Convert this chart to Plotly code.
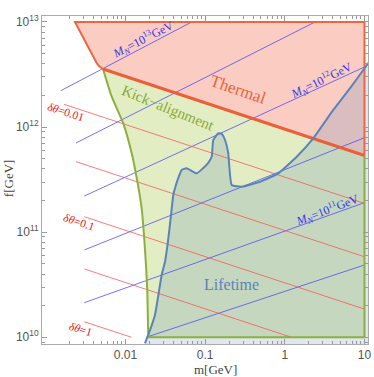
import plotly.graph_objects as go

# ---------------- data (log10 values) ----------------
# Thermal (excluded) region outline, starting at the lower-left corner
thermal_log_m = [-2.282, -2.326, -2.361, -2.634, 1.0, 1.0]
thermal_log_f = [12.553, 12.577, 12.607, 13.0, 13.0, 11.73]
# Thermal boundary (thick line)
thermal_line_log_m = [-2.282, 1.0]
thermal_line_log_f = [12.553, 11.73]

# Kick-alignment left boundary (top to bottom)
kick_log_m = [-2.282, -2.173, -2.028, -1.922, -1.847, -1.797, -1.768, -1.743, -1.726, -1.714]
kick_log_f = [12.553, 12.289, 12.036, 11.751, 11.465, 11.230, 10.973, 10.688, 10.434, 10.0]
kick_floor_log_f = 10.0
kick_right_log_m = 1.0

# Lifetime boundary curve
life_log_m = [-1.755, -1.714, -1.630, -1.546, -1.504, -1.470, -1.433, -1.400, -1.379, -1.337,
              -1.295, -1.232, -1.106, -1.027, -0.964, -0.918, -0.898, -0.835, -0.792, -0.751,
              -0.710, -0.667, -0.541, -0.312, -0.082, 0.149, 0.357, 0.608, 0.817, 0.985, 1.090]
life_log_f = [9.943, 10.022, 10.212, 10.593, 10.719, 10.894, 11.132, 11.354, 11.418, 11.516,
              11.592, 11.608, 11.560, 11.608, 11.658, 11.718, 11.877, 11.941, 11.934, 11.877,
              11.751, 11.449, 11.433, 11.480, 11.560, 11.718, 11.893, 12.163, 12.369, 12.543, 12.655]

# Constant M_N lines (start / end points)
mn_log_m0 = [-2.813, -2.621, -2.517, -2.517, -2.517, -1.74]
mn_log_f0 = [12.346, 11.849, 11.344, 10.831, 10.329, 10.0]
mn_log_m1 = [-1.169, 0.379, 1.0, 1.0, 1.0, 1.0]
mn_log_f1 = [13.0, 13.0, 12.572, 11.899, 11.281, 10.688]

# Constant delta-theta lines (start / end points)
dt_log_m0 = [-2.772, -2.621, -2.517, -2.517, -2.517]
dt_log_f0 = [12.217, 11.671, 11.147, 10.650, 10.148]
dt_log_m1 = [1.0, 1.0, 1.0, 0.083, -1.925]
dt_log_f1 = [11.274, 10.766, 10.268, 10.0, 10.0]

mn_label_text = ["10<sup>13</sup>", "10<sup>12</sup>", "10<sup>11</sup>"]
dt_label_text = ["0.01", "0.1", "1"]

x_tick_vals = [0.01, 0.1, 1, 10]
x_tick_text = ["0.01", "0.1", "1", "10"]
y_tick_vals = [1e10, 1e11, 1e12, 1e13]
y_tick_text = ["10<sup>10</sup>", "10<sup>11</sup>", "10<sup>12</sup>", "10<sup>13</sup>"]


def p(v):
    return [10 ** a for a in v]


fig = go.Figure()

# ---- fills ----
green_m = kick_log_m + [kick_right_log_m, kick_right_log_m] + thermal_line_log_m[::-1]
green_f = kick_log_f + [kick_floor_log_f, thermal_line_log_f[1]] + thermal_line_log_f[::-1]
fig.add_trace(go.Scatter(x=p(green_m), y=p(green_f), fill="toself", mode="none",
                         fillcolor="rgba(160,195,60,0.30)", hoverinfo="skip"))
fig.add_trace(go.Scatter(x=p(thermal_log_m), y=p(thermal_log_f), fill="toself", mode="none",
                         fillcolor="rgba(240,110,80,0.35)", hoverinfo="skip"))
life_m = life_log_m + [1.3, 1.3, life_log_m[0]]
life_f = life_log_f + [life_log_f[-1], 9.8, 9.8]
fig.add_trace(go.Scatter(x=p(life_m), y=p(life_f), fill="toself", mode="none",
                         fillcolor="rgba(90,130,180,0.20)", hoverinfo="skip"))

# ---- thin contour lines ----
for i in range(len(mn_log_m0)):
    fig.add_trace(go.Scatter(x=p([mn_log_m0[i], mn_log_m1[i]]), y=p([mn_log_f0[i], mn_log_f1[i]]),
                             mode="lines", line=dict(color="rgba(70,70,245,0.75)", width=1),
                             hoverinfo="skip"))
for i in range(len(dt_log_m0)):
    fig.add_trace(go.Scatter(x=p([dt_log_m0[i], dt_log_m1[i]]), y=p([dt_log_f0[i], dt_log_f1[i]]),
                             mode="lines", line=dict(color="rgba(250,80,80,0.75)", width=1),
                             hoverinfo="skip"))

# ---- boundaries ----
fig.add_trace(go.Scatter(x=p(thermal_log_m), y=p(thermal_log_f), mode="lines",
                         line=dict(color="#ec6640", width=2), hoverinfo="skip"))
fig.add_trace(go.Scatter(x=p(kick_log_m), y=p(kick_log_f), mode="lines",
                         line=dict(color="#8db03c", width=2, shape="spline", smoothing=0.5),
                         hoverinfo="skip"))
fig.add_trace(go.Scatter(x=p([kick_log_m[-1], kick_right_log_m, kick_right_log_m]),
                         y=p([kick_floor_log_f, kick_floor_log_f, thermal_line_log_f[1]]),
                         mode="lines", line=dict(color="#8db03c", width=2), hoverinfo="skip"))
fig.add_trace(go.Scatter(x=p(thermal_line_log_m), y=p(thermal_line_log_f), mode="lines",
                         line=dict(color="#ea6038", width=3), hoverinfo="skip"))
fig.add_trace(go.Scatter(x=p(life_log_m), y=p(life_log_f), mode="lines",
                         line=dict(color="#5a84b9", width=2, shape="spline", smoothing=0.4),
                         hoverinfo="skip"))

serif = "Liberation Serif"
ann = []


def lab(x, y, text, color, size, angle=0, xref="x", yref="y"):
    ann.append(dict(x=x, y=y, xref=xref, yref=yref, text=text, showarrow=False,
                    xanchor="center", yanchor="middle",
                    textangle=angle, font=dict(family=serif, size=size, color=color)))


lab(-0.588, 12.353, "Thermal", "#e8633c", 17, 19)
lab(-1.467, 12.182, "Kick\u2212alignment", "#8aaa35", 15, 22)
lab(-0.664, 10.498, "Lifetime", "#5a84b9", 16, 0)
mn_pos = [(-1.768, 12.829, -27), (0.466, 12.448, -26), (0.529, 11.211, -21)]
for (x, y, a), t in zip(mn_pos, mn_label_text):
    lab(x, y, "<i>M</i><sub><i>N</i></sub>=" + t + "GeV", "#3535e8", 12, a)
dt_pos = [(-2.747, 12.144, 18), (-2.584, 11.097, 18), (-2.571, 10.079, 18)]
for (x, y, a), t in zip(dt_pos, dt_label_text):
    lab(x, y, "<i>\u03b4\u03b8</i>=" + t, "#ee2020", 11.5, a)

# axis titles
lab(-0.104, 0.506, "f[GeV]", "#444444", 13, -90, "paper", "paper")
lab(0.531, -0.079, "m[GeV]", "#444444", 13, 0, "paper", "paper")

minor_x = [k * 10 ** d for d in range(-4, 2) for k in range(2, 10)]
minor_y = [k * 10 ** d for d in range(9, 14) for k in range(2, 10)]

axis_common = dict(type="log", ticks="inside", ticklen=5, tickcolor="#9a9a9a", tickwidth=1,
                   showline=True, linecolor="#ababab", linewidth=1, mirror="ticks",
                   showgrid=False, zeroline=False, automargin=False,
                   tickfont=dict(family="Liberation Sans", size=12, color="#555555"))
fig.update_xaxes(range=[-3.048, 1.044], tickvals=x_tick_vals, ticktext=x_tick_text,
                 minor=dict(tickvals=minor_x, ticks="inside", ticklen=3, tickcolor="#9a9a9a",
                            showgrid=False),
                 **axis_common)
fig.update_yaxes(range=[9.936, 13.057], tickvals=y_tick_vals, ticktext=y_tick_text,
                 minor=dict(tickvals=minor_y, ticks="inside", ticklen=3, tickcolor="#9a9a9a",
                            showgrid=False),
                 **axis_common)
fig.update_layout(width=374, height=377, margin=dict(l=42, r=6, t=16, b=33),
                  plot_bgcolor="white", paper_bgcolor="white", showlegend=False,
                  annotations=ann)
fig.write_html("out.html", config={"displayModeBar": False},
               post_script="document.body.style.margin='0px';document.body.style.overflow='hidden';")
